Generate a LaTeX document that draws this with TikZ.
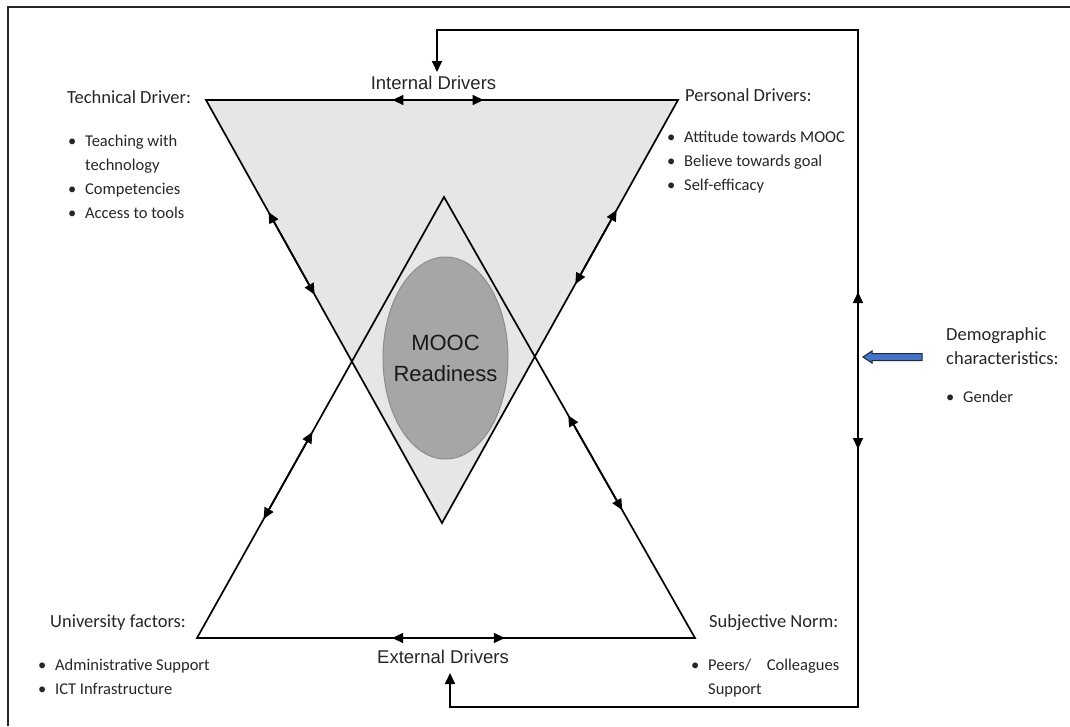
\documentclass[tikz,border=0pt]{standalone}
\usepackage{fontspec}
\setmainfont{Carlito}
\newfontfamily\arialfont{Liberation Sans}
\usetikzlibrary{calc, arrows.meta, shapes.geometric}
\definecolor{tg}{HTML}{E6E6E6}
\definecolor{eg}{HTML}{A6A6A6}
\definecolor{egb}{HTML}{8C8C8C}
\definecolor{bl1}{RGB}{68, 114, 196}
\definecolor{bl2}{RGB}{32, 42, 70}
\newcommand{\itm}{\makebox[17pt][l]{\textbullet}}
\newcommand{\itmgap}{\makebox[17pt]{}}

\begin{document}
\begin{tikzpicture}[x=1pt, y=-1pt,
		edge/.style={line width=1.7pt},
		twoway/.style={line width=1.7pt, {Triangle[length=11pt,width=10pt]}-{Triangle[length=11pt,width=10pt]}},
		head/.style={font=\fontsize{18.5}{24}\selectfont, anchor=west, inner sep=0pt, align=left, text=black!85},
		items/.style={font=\fontsize{16.5}{24}\selectfont, anchor=north west, inner sep=0pt, align=left, text=black!85},
		drv/.style={font=\arialfont\fontsize{18.5}{22}\selectfont, inner sep=0pt, text=black!85}]

			\useasboundingbox (0,0) rectangle (1070,726);

			% Frame
			\draw[line width=2.2pt, black!85] (8,726) -- (8,7) -- (1070,7);

			% Corners of the two triangles
			\coordinate (tl) at (206,100);
			\coordinate (tr) at (678,100);
			\coordinate (tb) at (442,523);
			\coordinate (bt) at (444,197);
			\coordinate (bl) at (197,638);
			\coordinate (br) at (695,638);

			% Internal triangle
			\fill[tg] (tl) -- (tr) -- (tb) -- cycle;

			% MOOC Readiness
			\node[ellipse, fill=eg, draw=egb, line width=1pt, inner sep=0pt,
				minimum width=125pt, minimum height=202pt] (ready) at (445.5,358) {};
			\node[align=center, inner sep=0pt, font=\arialfont\fontsize{22}{31}\selectfont, text=black!90]
				(readytxt) at (ready.center) {MOOC\\Readiness};

			\draw[edge] (tl) -- (tr) -- (tb) -- cycle;
			\draw[edge] (bt) -- (br) -- (bl) -- cycle;

			% Two-way arrows on the edges
			\foreach \a/\b/\s/\e in {tl/tr/0.395/0.588, bl/br/0.392/0.618,
					tl/tb/0.265/0.46, tr/tb/0.26/0.435, bl/bt/0.467/0.27, br/bt/0.505/0.29} {
					\draw[twoway] ($(\a)!\s!(\b)$) -- ($(\a)!\e!(\b)$);
				}

			% Drivers
			\node[drv] (intl) at (433.5,83) {Internal Drivers};
			\node[drv] (extl) at (443,657) {External Drivers};

			\node[head] (tech) at (67,97.5) {Technical Driver:};
			\node[items] (techlist) at (68,135) {\itm Teaching with\\\itmgap technology\\\itm Competencies\\\itm Access to tools};

			\node[head] (pers) at (685,95) {Personal Drivers:};
			\node[items] (perslist) at (667,131) {\itm Attitude towards MOOC\\\itm Believe towards goal\\\itm Self-efficacy};

			\node[head] (univ) at (50,623) {University factors:};
			\node[items] (univlist) at (38,659) {\itm Administrative Support\\\itm ICT Infrastructure};

			\node[head] (subj) at (709,623) {Subjective Norm:};
			\node[items] (subjlist) at (691,659) {\itm\makebox[131pt][l]{Peers/\hfill Colleagues}\\\itmgap Support};

			\node[head] (demo) at (946,346) {Demographic\\characteristics:};
			\node[items] (demolist) at (946,391) {\itm Gender};

			% Feedback loop
			\coordinate (fbtop) at (858,30);
			\coordinate (fbbot) at (858,707);
			\draw[edge, {Triangle[length=11pt,width=10pt]}-{Triangle[length=11pt,width=10pt]}]
				([xshift=3.5pt,yshift=4pt]intl.north) |- (fbtop) -- (fbbot) -| ([xshift=7pt,yshift=-9pt]extl.south);
			\draw[twoway] ($(fbtop)!0.387!(fbbot)$) -- ($(fbtop)!0.619!(fbbot)$);

			% Demographic arrow
			\coordinate (demtip) at (863,357);
			\filldraw[fill=bl1, draw=bl2, line width=1pt] (demtip) -- ++(9,-6) -- ++(0,2.5) -- ++(50,0)
				-- ++(0,7) -- ++(-50,0) -- ++(0,2.5) -- cycle;
		\end{tikzpicture}
\end{document}
